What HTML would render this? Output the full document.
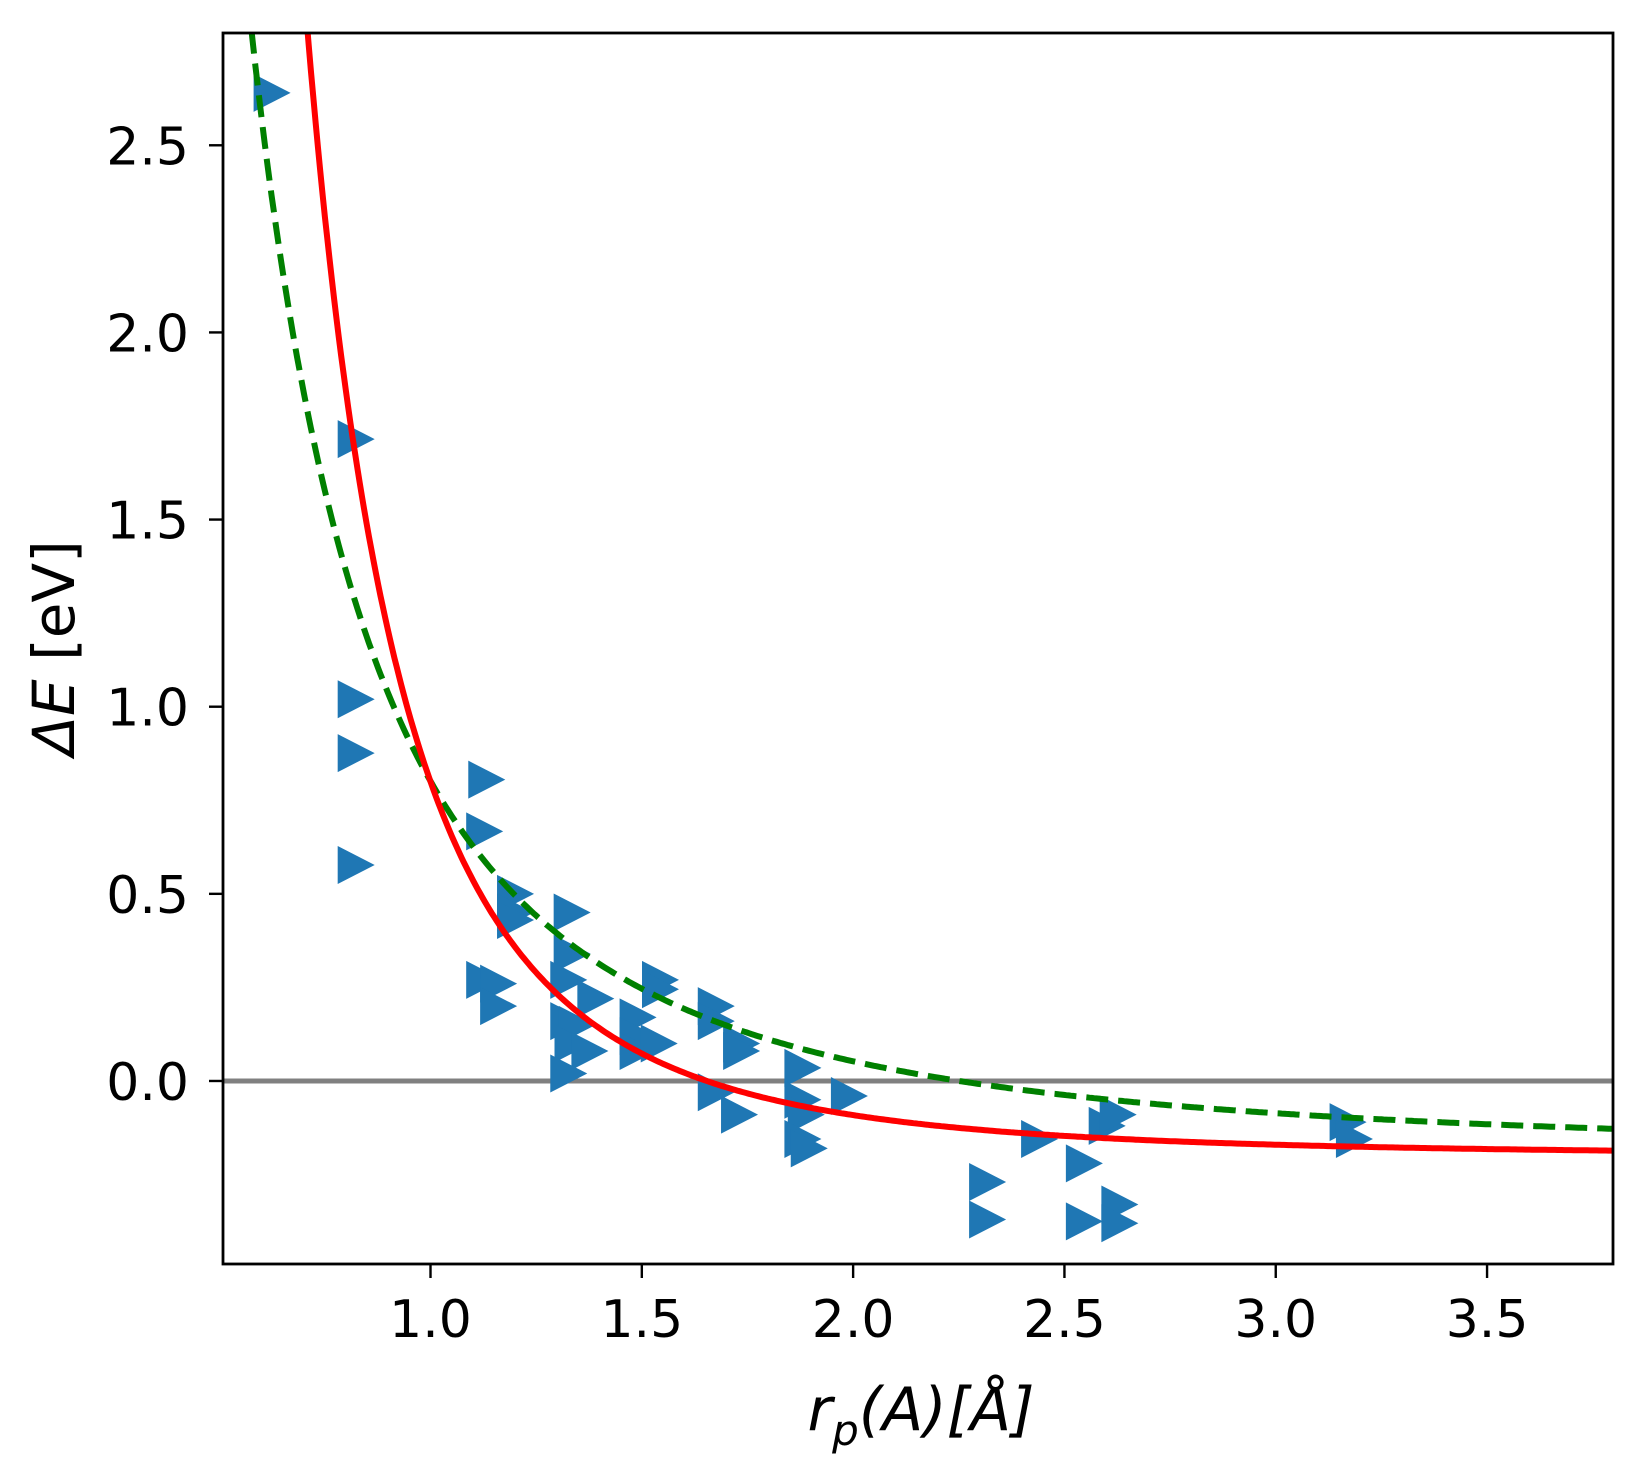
<!DOCTYPE html>
<html><head><meta charset="utf-8"><style>
html,body{margin:0;padding:0;background:#fff;}
svg{display:block;font-family:"DejaVu Sans","Liberation Sans",sans-serif;}
</style></head><body>
<svg id="chart" width="1649" height="1467" viewBox="0 0 1649 1467" xmlns="http://www.w3.org/2000/svg">
<rect x="0" y="0" width="1649" height="1467" fill="#fff"/>
<g id="plot"></g>
<g id="axes"></g>
<text x="921" y="1430" font-size="60" text-anchor="middle" font-style="italic">r<tspan font-size="42" dy="15">p</tspan><tspan dy="-15">(A)[Å]</tspan></text>
<text transform="translate(74,648) rotate(-90)" font-size="58" text-anchor="middle"><tspan font-style="italic">ΔE</tspan> [eV]</text>
</svg>
<script>
const xPoints = [0.624,0.823,0.823,0.823,0.823,1.132,1.127,1.20,1.20,1.20,1.127,1.16,1.16,1.334,1.334,1.326,1.326,1.346,1.336,1.376,1.326,1.39,1.49,1.49,1.49,1.54,1.543,1.543,1.675,1.675,1.735,1.735,1.675,1.73,1.88,1.88,1.888,1.88,1.895,1.99,2.317,2.317,2.44,2.546,2.546,2.63,2.63,2.60,2.626,3.17,3.185];
const yPoints = [2.64,1.715,1.02,0.876,0.577,0.805,0.667,0.50,0.45,0.43,0.27,0.26,0.20,0.45,0.34,0.27,0.16,0.15,0.10,0.08,0.02,0.22,0.17,0.12,0.08,0.10,0.27,0.245,0.20,0.16,0.10,0.08,-0.03,-0.09,0.035,-0.05,-0.09,-0.155,-0.18,-0.04,-0.27,-0.37,-0.155,-0.22,-0.375,-0.33,-0.38,-0.12,-0.09,-0.11,-0.155];
// fit parameters: y = a + b / x^n
const redFit = [-0.2, 1.0, 3.2];
const greenFit = [-0.197, 0.998, 2.0];
const xTicks = [1.0,1.5,2.0,2.5,3.0,3.5];
const xTickLabels = ["1.0","1.5","2.0","2.5","3.0","3.5"];
const yTicks = [0.0,0.5,1.0,1.5,2.0,2.5];
const yTickLabels = ["0.0","0.5","1.0","1.5","2.0","2.5"];

const NS="http://www.w3.org/2000/svg";
const L=223,R=1613,T=33,B=1264;
const XMIN=0.509,XMAX=3.798,YMIN=-0.489,YMAX=2.80;
const sx=v=>L+(v-XMIN)/(XMAX-XMIN)*(R-L);
const sy=v=>B-(v-YMIN)/(YMAX-YMIN)*(B-T);
function mk(tag,attrs,parent){const e=document.createElementNS(NS,tag);for(const k in attrs)e.setAttribute(k,attrs[k]);parent.appendChild(e);return e;}
const plot=document.getElementById('plot'), axes=document.getElementById('axes');
const defs=mk('defs',{},plot);
const cp=mk('clipPath',{id:'clip'},defs);mk('rect',{x:L,y:T,width:R-L,height:B-T},cp);
const g=mk('g',{'clip-path':'url(#clip)'},plot);

const zl=mk('line',{x1:L,x2:R,y1:sy(0),y2:sy(0),stroke:'#808080','stroke-width':5},g);



function curve(p){let d='';for(let i=0;i<=600;i++){const x=XMIN+(XMAX-XMIN)*i/600;let y=p[0]+p[1]/Math.pow(x,p[2]);y=Math.max(Math.min(y,10),-10);d+=(i?'L':'M')+sx(x).toFixed(1)+','+sy(y).toFixed(1);}return d;}

for(let i=0;i<xPoints.length;i++){
  const cx=sx(xPoints[i]),cy=sy(yPoints[i]);
  const p=mk('polygon',{points:`${cx-18},${cy-19} ${cx+19},${cy} ${cx-18},${cy+19}`,fill:'#1f77b4'},g);
  
  
}
const gr=mk('path',{d:curve(greenFit),fill:'none',stroke:'#008000','stroke-width':6,'stroke-dasharray':'22,10'},g);


const rd=mk('path',{d:curve(redFit),fill:'none',stroke:'#ff0000','stroke-width':6},g);



const fr=mk('rect',{x:L,y:T,width:R-L,height:B-T,fill:'none',stroke:'#000','stroke-width':2.8},axes);


xTicks.forEach((v,i)=>{
  const x=sx(v);
  const t=mk('line',{x1:x,x2:x,y1:B,y2:B+14,stroke:'#000','stroke-width':2.4},axes);
  
  
  const tx=mk('text',{x:x,y:1337,'font-size':52,'text-anchor':'middle'},axes);
  tx.textContent=xTickLabels[i];
  
  
});
yTicks.forEach((v,i)=>{
  const y=sy(v);
  const t=mk('line',{x1:L-14,x2:L,y1:y,y2:y,stroke:'#000','stroke-width':2.4},axes);
  
  
  const tx=mk('text',{x:189,y:y+19,'font-size':52,'text-anchor':'end'},axes);
  tx.textContent=yTickLabels[i];
  
  
});
</script>
</body></html>
